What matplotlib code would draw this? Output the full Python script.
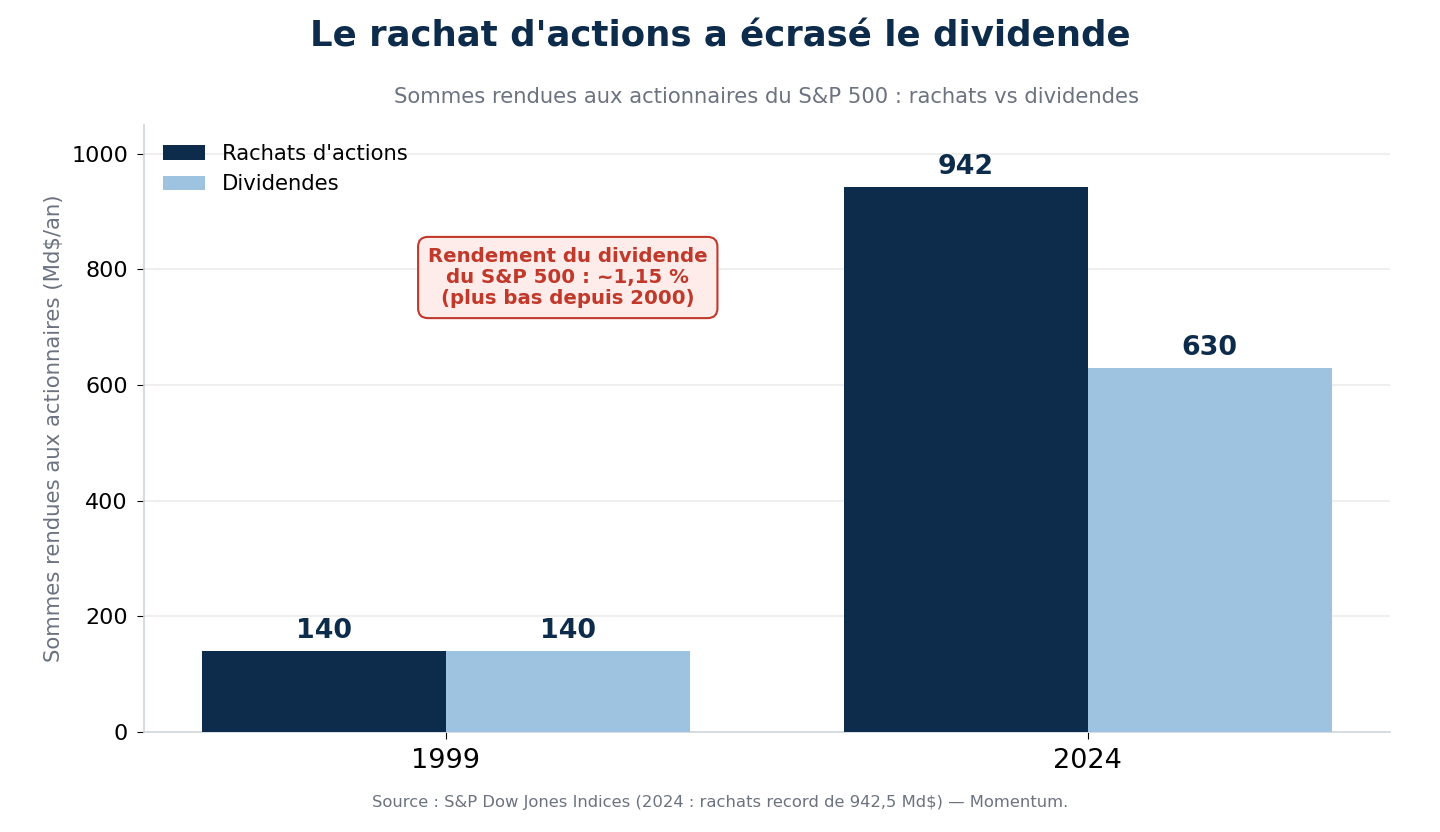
import matplotlib
matplotlib.use("Agg")
import matplotlib.pyplot as plt
import numpy as np

years = ["1999", "2024"]
rachats = [140, 942]
dividendes = [140, 630]
series_names = ["Rachats d'actions", "Dividendes"]
yticks = [0, 200, 400, 600, 800, 1000]

NAVY = "#0d2b4a"
LIGHT = "#9dc3e0"
GRAY = "#6b7280"
RED = "#c0392b"

fig = plt.figure(figsize=(14.4, 8.32), dpi=100)
ax = fig.add_axes([0.1, 0.12, 0.865, 0.73])

x = np.arange(len(years))
w = 0.38
b1 = ax.bar(x - w / 2, rachats, w, color=NAVY, label=series_names[0], zorder=3)
b2 = ax.bar(x + w / 2, dividendes, w, color=LIGHT, label=series_names[1], zorder=3)

for bars, vals in ((b1, rachats), (b2, dividendes)):
    for r, v in zip(bars, vals):
        ax.annotate(f"{v}", (r.get_x() + r.get_width() / 2, v), xytext=(0, 5),
                    textcoords="offset points", ha="center", va="bottom",
                    fontsize=19.4, fontweight="bold", color=NAVY)

ax.set_xlim(-0.47, 1.47)
ax.set_ylim(0, 1050)
ax.set_xticks(x)
ax.set_xticklabels(years, fontsize=19.5)
ax.set_yticks(yticks)
ax.tick_params(axis="y", labelsize=16, length=5, pad=6.5)
ax.tick_params(axis="x", length=5, pad=6.3)
ax.grid(axis="y", color="#ececec", linewidth=1.2, zorder=0)
ax.set_axisbelow(True)
for s in ("top", "right"):
    ax.spines[s].set_visible(False)
for s in ("left", "bottom"):
    ax.spines[s].set_color("#d0d5dd")
    ax.spines[s].set_linewidth(1.2)

ax.set_ylabel("Sommes rendues aux actionnaires (Md$/an)", fontsize=15.3, color=GRAY, labelpad=5)
ax.set_title("Sommes rendues aux actionnaires du S&P 500 : rachats vs dividendes",
             fontsize=15.2, color=GRAY, pad=16)

ax.legend(loc="upper left", frameon=False, fontsize=15.2, handlelength=2.0)

ax.text(0.19, 786, "Rendement du dividende\ndu S&P 500 : ~1,15 %\n(plus bas depuis 2000)",
        ha="center", va="center", fontsize=14.2, fontweight="bold", color=RED,
        linespacing=1.15,
        bbox=dict(boxstyle="round,pad=0.5", facecolor="#fdecea", edgecolor=RED, linewidth=1.5),
        zorder=5)

fig.suptitle("Le rachat d'actions a écrasé le dividende", fontsize=25.6, fontweight="bold",
             color=NAVY, y=0.977)
fig.text(0.5, 0.035, "Source : S&P Dow Jones Indices (2024 : rachats record de 942,5 Md$) — Momentum.",
         ha="center", va="center", fontsize=11.75, color=GRAY)

fig.savefig("out.png", dpi=100)
